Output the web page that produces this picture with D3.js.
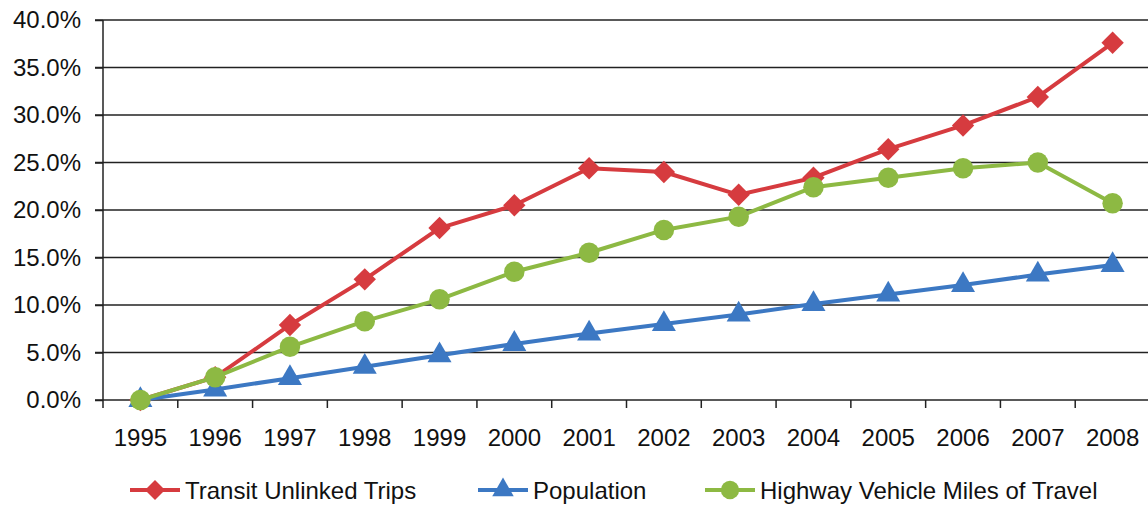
<!DOCTYPE html>
<html><head><meta charset="utf-8">
<script src="https://cdn.jsdelivr.net/npm/d3@7"></script>
<style>
body{margin:0;background:#fff;}
svg{display:block;font-family:"Liberation Sans",Arial,sans-serif;}
</style></head>
<body><svg id="c" width="1148" height="506"></svg>
<script>
const years = ["1995","1996","1997","1998","1999","2000","2001","2002","2003","2004","2005","2006","2007","2008"];
const transit = [0, 2.4, 7.9, 12.7, 18.1, 20.5, 24.4, 24.0, 21.6, 23.4, 26.4, 28.9, 31.9, 37.6];
const population = [0, 1.1, 2.3, 3.5, 4.7, 5.9, 7.0, 8.0, 9.0, 10.1, 11.1, 12.1, 13.2, 14.2];
const highway = [0, 2.4, 5.6, 8.3, 10.6, 13.5, 15.5, 17.9, 19.3, 22.4, 23.4, 24.4, 25.0, 20.7];
const yTicks = [0, 5, 10, 15, 20, 25, 30, 35, 40];
const seriesNames = ["Transit Unlinked Trips", "Population", "Highway Vehicle Miles of Travel"];

const svg = d3.select("#c");
const x = d3.scaleBand().domain(years).range([103, 1150]).padding(0);
const y = d3.scaleLinear().domain([0, 40]).range([400, 20]);

// square diamond symbol
const symbolSquareDiamond = {
  draw(ctx, size) {
    const r = Math.sqrt(size / 2);
    ctx.moveTo(0, -r); ctx.lineTo(r, 0); ctx.lineTo(0, r); ctx.lineTo(-r, 0); ctx.closePath();
  }
};

// gridlines
svg.append("g").selectAll("line").data(yTicks.filter(d => d > 0)).join("line")
  .attr("x1", 95).attr("x2", 1148).attr("y1", d => y(d)).attr("y2", d => y(d))
  .attr("stroke", "#222").attr("stroke-width", 1.5);

// y axis
const yAxis = d3.axisLeft(y).tickValues(yTicks).tickSize(8).tickPadding(14)
  .tickFormat(d => d.toFixed(1) + "%");
const gy = svg.append("g").attr("transform", "translate(103,0)").call(yAxis);
gy.select(".domain").attr("stroke", "#222").attr("stroke-width", 1.5).attr("d", "M0,20V400");
gy.selectAll(".tick line").attr("stroke", "#222").attr("stroke-width", 1.5);
gy.selectAll("text").attr("font-size", 24).attr("fill", "#111").attr("font-family", "Liberation Sans, Arial, sans-serif");

// x axis
const gx = svg.append("g").attr("transform", "translate(0,400)").call(d3.axisBottom(x).tickSize(0).tickPadding(0));
gx.select(".domain").attr("stroke", "#222").attr("stroke-width", 1.5).attr("d", "M95,0H1148");
gx.selectAll("text").attr("font-size", 24).attr("fill", "#111").attr("dy", 0).attr("y", 46)
  .attr("font-family", "Liberation Sans, Arial, sans-serif");
svg.append("g").selectAll("line").data(years).join("line")
  .attr("x1", d => x(d)).attr("x2", d => x(d)).attr("y1", 400).attr("y2", 408)
  .attr("stroke", "#222").attr("stroke-width", 1.5);

const cx = d => x(d) + x.bandwidth() / 2;

const series = [
  {name: seriesNames[0], values: transit, color: "#D63B3F", shape: symbolSquareDiamond, size: 250},
  {name: seriesNames[1], values: population, color: "#3C78C3", shape: d3.symbolTriangle, size: 250},
  {name: seriesNames[2], values: highway, color: "#8DB943", shape: d3.symbolCircle, size: 330}
];
const drawOrder = [0, 1, 2];
const line = d3.line().x((d, i) => cx(years[i])).y(d => y(d));

drawOrder.forEach(k => {
  const s = series[k];
  const g = svg.append("g");
  g.append("path").datum(s.values).attr("d", line).attr("fill", "none")
    .attr("stroke", s.color).attr("stroke-width", 4).attr("stroke-linejoin", "round");
  g.selectAll("path.m").data(s.values).join("path").attr("class", "m")
    .attr("transform", (d, i) => `translate(${cx(years[i])},${y(d)})`)
    .attr("d", d3.symbol().type(s.shape).size(s.size))
    .attr("fill", s.color);
});

// legend
const legendX = [130, 478, 705];
const lg = svg.append("g");
series.forEach((s, i) => {
  const g = lg.append("g").attr("transform", `translate(${legendX[i]},490)`);
  g.append("line").attr("x1", 0).attr("x2", 50).attr("y1", 0).attr("y2", 0)
    .attr("stroke", s.color).attr("stroke-width", 4);
  g.append("path").attr("transform", "translate(25,0)")
    .attr("d", d3.symbol().type(s.shape).size(s.size * 0.8)).attr("fill", s.color);
  g.append("text").attr("x", 55).attr("y", 0).attr("dy", "0.36em")
    .attr("font-size", 24).attr("fill", "#111").text(s.name);
});
</script></body></html>
